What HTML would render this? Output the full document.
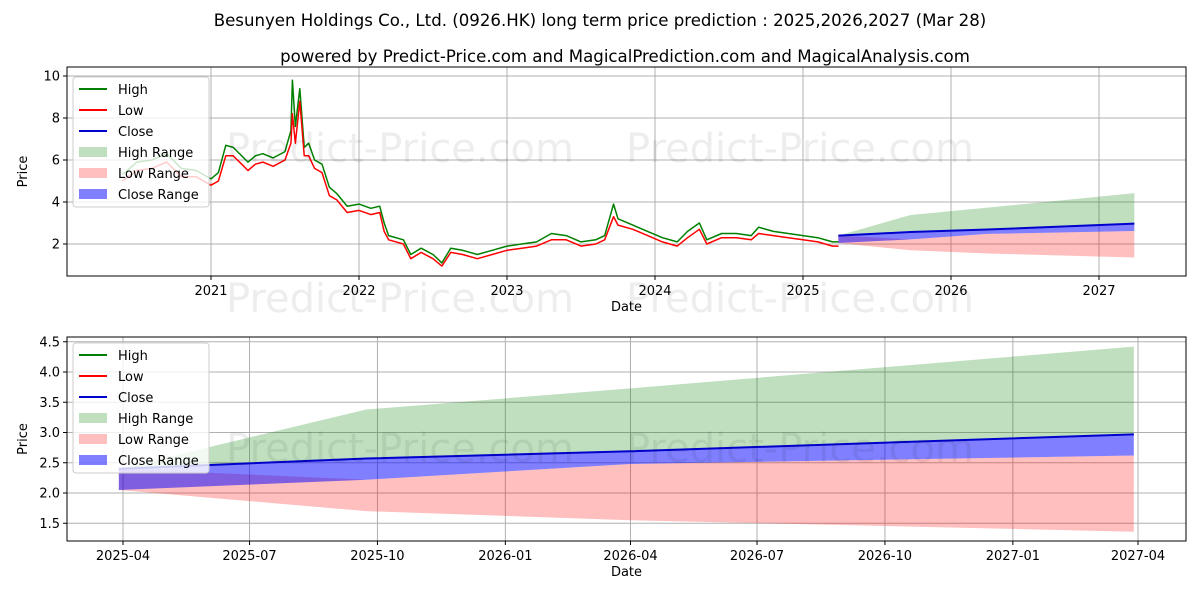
<!DOCTYPE html>
<html><head><meta charset="utf-8"><style>
body{margin:0;background:#fff;font-family:"Liberation Sans","DejaVu Sans",sans-serif}
svg text{font-family:"DejaVu Sans","Liberation Sans",sans-serif}
</style></head><body>
<svg id="c" width="1200" height="600" xmlns="http://www.w3.org/2000/svg">
<rect width="1200" height="600" fill="#fff"/>
<text x="600" y="26" font-size="16.6" text-anchor="middle">Besunyen Holdings Co., Ltd. (0926.HK) long term price prediction : 2025,2026,2027 (Mar 28)</text>
<text x="625" y="62" font-size="16.6" text-anchor="middle">powered by Predict-Price.com and MagicalPrediction.com and MagicalAnalysis.com</text>
<g id="top"></g><g id="bot"></g>
</svg>
<script>
// Historical (decimal year, high, low)
const histYears=[2020.4,2020.5,2020.6,2020.7,2020.8,2020.9,2021.0,2021.05,2021.1,2021.15,2021.25,2021.3,2021.35,2021.42,2021.5,2021.54,2021.55,2021.57,2021.6,2021.63,2021.66,2021.7,2021.75,2021.8,2021.85,2021.92,2022.0,2022.08,2022.14,2022.17,2022.2,2022.3,2022.35,2022.42,2022.5,2022.56,2022.62,2022.7,2022.8,2022.9,2023.0,2023.1,2023.2,2023.3,2023.4,2023.5,2023.6,2023.66,2023.72,2023.75,2023.85,2023.95,2024.05,2024.15,2024.22,2024.3,2024.35,2024.45,2024.55,2024.65,2024.7,2024.8,2024.9,2025.0,2025.1,2025.2,2025.24];
const histHigh=[5.3,5.9,6.0,6.3,5.6,5.5,5.1,5.4,6.7,6.6,5.9,6.2,6.3,6.1,6.4,7.4,9.8,7.6,9.4,6.6,6.8,6.0,5.8,4.7,4.4,3.8,3.9,3.7,3.8,3.0,2.4,2.2,1.5,1.8,1.5,1.1,1.8,1.7,1.5,1.7,1.9,2.0,2.1,2.5,2.4,2.1,2.2,2.4,3.9,3.2,2.9,2.6,2.3,2.1,2.6,3.0,2.2,2.5,2.5,2.4,2.8,2.6,2.5,2.4,2.3,2.1,2.1];
const histLow=[5.0,5.5,5.6,5.9,5.2,5.2,4.8,5.0,6.2,6.2,5.5,5.8,5.9,5.7,6.0,6.8,8.2,6.8,8.8,6.2,6.2,5.6,5.4,4.3,4.1,3.5,3.6,3.4,3.5,2.6,2.2,2.0,1.3,1.6,1.3,0.95,1.6,1.5,1.3,1.5,1.7,1.8,1.9,2.2,2.2,1.9,2.0,2.2,3.3,2.9,2.7,2.4,2.1,1.9,2.3,2.7,2.0,2.3,2.3,2.2,2.5,2.4,2.3,2.2,2.1,1.9,1.9];
// Forecast (days from 2025-04-01)
const fcDays=[-3,175,365,727];
const fcClose=[2.40,2.57,2.69,2.97];
const fcHighTop=[2.40,3.38,3.73,4.42];
const fcHighBot=[2.40,2.57,2.69,2.97];
const fcLowTop=[2.40,2.22,2.48,2.62];
const fcLowBot=[2.05,1.70,1.55,1.36];
const fcCloseTop=[2.40,2.58,2.70,2.98];
const fcCloseBot=[2.05,2.22,2.48,2.62];
const topYTicks=[2,4,6,8,10];
const topXTicks=["2021","2022","2023","2024","2025","2026","2027"];
const botYTicks=[1.5,2.0,2.5,3.0,3.5,4.0,4.5];
const botXTicks=["2025-04","2025-07","2025-10","2026-01","2026-04","2026-07","2026-10","2027-01","2027-04"];
const botXTickDays=[0,91,183,275,365,456,548,640,730];

const NS="http://www.w3.org/2000/svg";
function mk(p,t,a){const e=document.createElementNS(NS,t);for(const k in a)e.setAttribute(k,a[k]);p.appendChild(e);return e;}
function txt(p,x,y,s,sz,anc){const e=mk(p,'text',{x:x,y:y,'font-size':sz,'text-anchor':anc||'middle'});e.textContent=s;return e;}

function drawPanel(g,L,T,R,B,xf,yf,yTicks,yLab,xTicks,xTickVals,series,legY,wmY){
  mk(g,'rect',{x:L,y:T,width:R-L,height:B-T,fill:'#fff'});
  yTicks.forEach(v=>{const y=yf(v);
    const l=mk(g,'line',{x1:L,x2:R,y1:y,y2:y,stroke:'#b0b0b0','stroke-width':1});
    
    mk(g,'line',{x1:L-4,x2:L,y1:y,y2:y,stroke:'#000'});
    const t=txt(g,L-7,y+4.5,yLab(v),13,'end');});
  xTicks.forEach((s,i)=>{const x=xf(xTickVals[i]);
    const l=mk(g,'line',{x1:x,x2:x,y1:T,y2:B,stroke:'#b0b0b0','stroke-width':1});
    
    mk(g,'line',{x1:x,x2:x,y1:B,y2:B+4,stroke:'#000'});
    const t=txt(g,x,B+19,s,13);});
  series(g);
  wmY.forEach(y=>{[400,800].forEach(x=>{const t=txt(g,x,y,'Predict-Price.com',40);t.setAttribute('fill','rgba(0,0,0,0.07)');});});
  const fr=mk(g,'rect',{x:L,y:T,width:R-L,height:B-T,fill:'none',stroke:'#000','stroke-width':1});
  
  const xl=txt(g,(L+R)/2,B+35,'Date',13);
  const yl=txt(g,0,0,'Price',13);yl.setAttribute('transform',`translate(${L-40},${(T+B)/2}) rotate(-90)`);
  
  const lg=mk(g,'g',{});
  mk(lg,'rect',{x:73,y:legY,width:136,height:130,fill:'rgba(255,255,255,0.8)',stroke:'#ccc',rx:3});
  const items=[['High','line','#008000'],['Low','line','#ff0000'],['Close','line','#0000cc'],['High Range','box','rgba(0,128,0,0.25)'],['Low Range','box','rgba(255,0,0,0.25)'],['Close Range','box','rgba(0,0,255,0.5)']];
  items.forEach((it,i)=>{const y=legY+12+i*21;
    const e=mk(lg,'g',{});
    if(it[1]=='line')mk(e,'line',{x1:79,x2:107,y1:y,y2:y,stroke:it[2],'stroke-width':2});
    else mk(e,'rect',{x:79,y:y-5,width:28,height:10,fill:it[2]});
    txt(e,118,y+5,it[0],13,'start');});
}
function poly(g,xs,top,bot,fill,name){let d='';xs.forEach((x,i)=>d+=(i?'L':'M')+x+','+top[i]);for(let i=xs.length-1;i>=0;i--)d+='L'+xs[i]+','+bot[i];
  const p=mk(g,'path',{d:d+'Z',fill:fill});}
function line(g,xs,ys,c,w,name){const p=mk(g,'polyline',{points:xs.map((x,i)=>x+','+ys[i]).join(' '),fill:'none',stroke:c,'stroke-width':w,'stroke-linejoin':'round'});
  }

const tX=v=>211+(v-2021)*148, tY=v=>286-v*21;
const fcYear=d=>2025.247+d/365;
drawPanel(document.getElementById('top'),67,67,1186,276,tX,tY,topYTicks,v=>String(v),topXTicks,topXTicks.map(Number),g=>{
  const fx=fcDays.map(d=>tX(fcYear(d)));
  poly(g,fx,fcHighTop.map(tY),fcHighBot.map(tY),'rgba(0,128,0,0.25)','high-range-area');
  poly(g,fx,fcLowTop.map(tY),fcLowBot.map(tY),'rgba(255,0,0,0.25)','low-range-area');
  poly(g,fx,fcCloseTop.map(tY),fcCloseBot.map(tY),'rgba(0,0,255,0.5)','close-range-area');
  const hx=histYears.map(tX);
  line(g,hx,histHigh.map(tY),'#008000',1.5,'high-line');
  line(g,hx,histLow.map(tY),'#ff0000',1.5,'low-line');
  line(g,fx,fcClose.map(tY),'#0000cc',2,'close-line');
},77,[162,312]);

const bX=d=>123+d*1.3904, bY=v=>493-(v-2)*60.5;
drawPanel(document.getElementById('bot'),67,337,1186,541,bX,bY,botYTicks,v=>v.toFixed(1),botXTicks,botXTickDays,g=>{
  const fx=fcDays.map(bX);
  poly(g,fx,fcHighTop.map(bY),fcHighBot.map(bY),'rgba(0,128,0,0.25)','high-range-area');
  poly(g,fx,fcLowTop.map(bY),fcLowBot.map(bY),'rgba(255,0,0,0.25)','low-range-area');
  poly(g,fx,fcCloseTop.map(bY),fcCloseBot.map(bY),'rgba(0,0,255,0.5)','close-range-area');
  line(g,fx,fcClose.map(bY),'#0000cc',2,'close-line');
},343,[462]);
</script>
</body></html>
